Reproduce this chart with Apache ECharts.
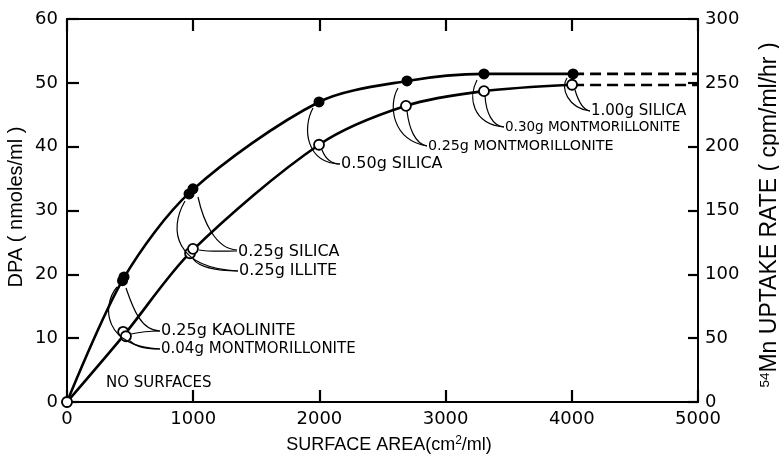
<!DOCTYPE html>
<html><head><meta charset="utf-8">
<script src="https://cdn.jsdelivr.net/npm/echarts@6/dist/echarts.min.js"></script>
<style>html,body{margin:0;padding:0;background:#fff}#c{width:779px;height:457px}</style>
</head><body><div id="c"></div>
<script>
// ---- data ----
const filledX = [0, 440, 452, 967, 998, 1997, 2694, 3304, 4010];
const filledY = [0, 19.0, 19.6, 32.6, 33.4, 47.0, 50.3, 51.4, 51.4];          // DPA (left axis)
const openX   = [0, 445, 467, 975, 998, 1997, 2686, 3304, 4002];
const openY   = [0, 55, 51.5, 116.5, 120, 201.5, 232, 243.5, 248.5];          // 54Mn uptake (right axis)

const filledCurveX = [0, 446, 982, 1997, 2694, 3304, 4010];
const filledCurveY = [0, 19.3, 33.0, 47.0, 50.3, 51.4, 51.4];
const openCurveX   = [0, 456, 986, 1997, 2686, 3304, 4002];
const openCurveY   = [0, 53, 118, 201.5, 232, 243.5, 248.5];

const dashX       = [4010, 5000];
const filledDashY = [51.4, 51.4];
const openDashY   = [248.3, 248.3];

const labelTexts = ['0.25g KAOLINITE', '0.04g MONTMORILLONITE', '0.25g SILICA', '0.25g ILLITE',
  '0.50g SILICA', '0.25g MONTMORILLONITE', '0.30g MONTMORILLONITE', '1.00g SILICA', 'NO SURFACES'];

// ---- layout of annotations (pixels) ----
const labelPos = [[161,331,16],[161,349,15],[238,252,16],[239,271,16],[341,164,16],[428,146,14.3],[505,127,13.5],[591,111,15],[106,383,15]];
const leaders = [
 [126,288, 132,305, 140,331, 160,331],
 [131,334, 140,332, 150,331, 160,331],
 [117,287, 101,306, 104,347, 160,349],
 [130,341, 138,348, 148,349, 160,349],
 [198,197, 203,220, 215,249, 237,250],
 [199,250, 210,252, 225,251, 237,251],
 [185,201, 168,230, 175,268, 238,271],
 [193,259, 200,268, 220,271, 238,271],
 [313,108, 302,128, 306,163, 340,164],
 [322,150, 326,160, 333,164, 340,164],
 [398,88, 388,105, 392,140, 427,146],
 [407,111, 409,128, 415,144, 427,146],
 [477,80, 468,97, 472,124, 504,127],
 [485,96, 486,112, 492,126, 504,127],
 [567,78, 560,88, 568,108, 590,111],
 [575,90, 578,100, 583,110, 590,111]
];

const zip = (a, b) => a.map((v, i) => [v, b[i]]);
const F = 'DejaVu Sans';
const AF = 'Liberation Sans';

const graphics = [];
leaders.forEach(l => graphics.push({
  type: 'bezierCurve', silent: true, z: 50,
  shape: {x1:l[0], y1:l[1], cpx1:l[2], cpy1:l[3], cpx2:l[4], cpy2:l[5], x2:l[6], y2:l[7]},
  style: {stroke:'#000', lineWidth:1.2, fill:null}
}));
labelTexts.forEach((t, i) => graphics.push({
  type: 'text', z: 50, x: labelPos[i][0], y: labelPos[i][1],
  style: {text: t, fontFamily: F, fontSize: labelPos[i][2], fill: '#000', align: 'left', verticalAlign: 'middle'}
}));
// axis names
graphics.push({
  type: 'text', z: 50, x: 16, y: 207, rotation: Math.PI/2,
  style: {text: 'DPA ( nmoles/ml )', fontFamily: AF, fontSize: 20, fill: '#000', align: 'center', verticalAlign: 'middle'}
});
graphics.push({
  type: 'text', z: 50, x: 770, y: 215, rotation: Math.PI/2,
  style: {text: '{s|54}{n|Mn UPTAKE RATE ( cpm/ml/hr )}', fontFamily: AF, fill: '#000', align: 'center', verticalAlign: 'middle',
    rich: {s: {fontSize: 13.5, fontFamily: AF, padding: [0,0,10,0]}, n: {fontSize: 23, fontFamily: AF}}}
});
graphics.push({
  type: 'text', z: 50, x: 389, y: 445,
  style: {text: '{n|SURFACE AREA(cm}{s|2}{n|/ml)}', fontFamily: AF, fill: '#000', align: 'center', verticalAlign: 'middle',
    rich: {s: {fontSize: 12, fontFamily: AF, padding: [0,0,9,0]}, n: {fontSize: 18, fontFamily: AF}}}
});

const plain = v => String(v);
const tickStyle = len => ({show: true, inside: true, length: len, lineStyle: {color: '#000', width: 2.2}});
const lineStyleAx = {show: true, onZero: false, lineStyle: {color: '#000', width: 2}};
const lbl = m => ({show: true, color: '#000', fontFamily: F, fontSize: 18, margin: m, formatter: plain});

const chart = echarts.init(document.getElementById('c'), null, {renderer: 'canvas'});
chart.setOption({
  animation: false,
  backgroundColor: '#fff',
  grid: {left: 67, top: 19, width: 631, height: 383, containLabel: false},
  xAxis: [
    {type: 'value', min: 0, max: 5000, interval: 1000, position: 'bottom',
      axisLine: lineStyleAx, axisTick: tickStyle(12), splitLine: {show: false}, axisLabel: lbl(8)},
    {type: 'value', min: 0, max: 5000, interval: 1000, position: 'top',
      axisLine: lineStyleAx, axisTick: tickStyle(12), splitLine: {show: false}, axisLabel: {show: false}}
  ],
  yAxis: [
    {type: 'value', min: 0, max: 60, interval: 10, position: 'left',
      axisLine: lineStyleAx, axisTick: tickStyle(12), splitLine: {show: false}, axisLabel: lbl(9)},
    {type: 'value', min: 0, max: 300, interval: 50, position: 'right',
      axisLine: lineStyleAx, axisTick: tickStyle(10), splitLine: {show: false}, axisLabel: lbl(7)}
  ],
  series: [
    {type: 'line', xAxisIndex: 0, yAxisIndex: 0, data: zip(filledCurveX, filledCurveY), smooth: 0.3,
      showSymbol: false, lineStyle: {color: '#000', width: 2.6}, z: 2, silent: true},
    {type: 'line', xAxisIndex: 0, yAxisIndex: 1, data: zip(openCurveX, openCurveY), smooth: 0.3,
      showSymbol: false, lineStyle: {color: '#000', width: 2.6}, z: 2, silent: true},
    {type: 'line', xAxisIndex: 0, yAxisIndex: 0, data: zip(dashX, filledDashY), showSymbol: false,
      lineStyle: {color: '#000', width: 2.6, type: [11, 6]}, z: 2, silent: true},
    {type: 'line', xAxisIndex: 0, yAxisIndex: 1, data: zip(dashX, openDashY), showSymbol: false,
      lineStyle: {color: '#000', width: 2.6, type: [11, 6]}, z: 2, silent: true},
    {type: 'scatter', xAxisIndex: 0, yAxisIndex: 0, data: zip(filledX, filledY), symbol: 'circle', symbolSize: 11,
      itemStyle: {color: '#000', opacity: 1}, emphasis: {disabled: true}, z: 5},
    {type: 'scatter', xAxisIndex: 0, yAxisIndex: 1, data: zip(openX, openY), symbol: 'circle', symbolSize: 10,
      itemStyle: {color: '#fff', borderColor: '#000', borderWidth: 1.8, opacity: 1}, emphasis: {disabled: true}, z: 6}
  ],
  graphic: graphics
});
</script></body></html>
